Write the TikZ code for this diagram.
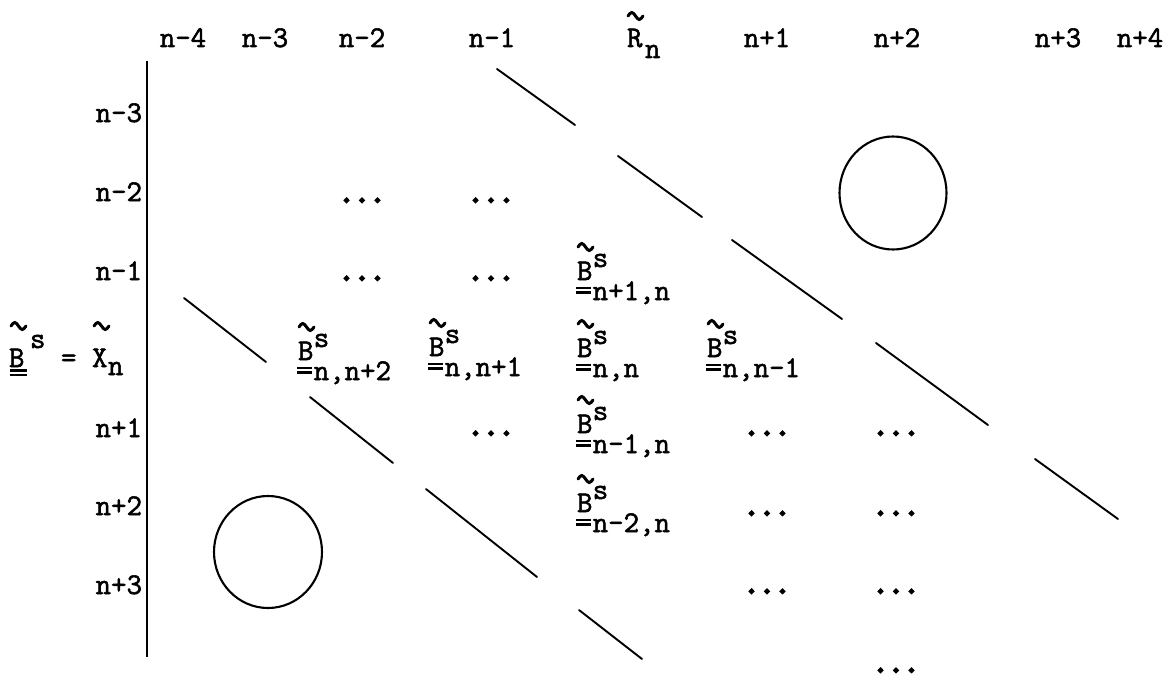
\documentclass[tikz,border=0pt]{standalone}
\newcommand{\strk}[1]{\special{pdf:literal direct 2 Tr #1 w}}
\begin{document}
\begin{tikzpicture}[x=1pt,y=-1pt,
  tt/.style={font=\fontsize{30}{36}\selectfont\ttfamily\strk{0.55}, inner sep=0pt, outer sep=0pt},
  hd/.style={tt, anchor=base},
  rowlbl/.style={tt, anchor=base east},
  dotrow/.style={tt, anchor=base, font=\fontsize{30}{36}\selectfont\ttfamily\strk{2.2}},
  piece/.style={tt, anchor=base west},
  diag/.style={line width=1.9pt, line cap=round},
  vline/.style={line width=2.8pt},
  ring/.style={line width=2.1pt},
  tildeline/.style={line width=3pt, line cap=round},
  uline/.style={line width=2.6pt},
  bent/.pic={
    \node[piece] (-b) at (0,0) {B};
    \node[piece] (-s) at (15.75,-13) {s};
    \node[piece] (-sub) at (15.75,20) {\tikzpictext};
    \draw[tildeline] (1,-33) sin (4.75,-36.5) cos (8.5,-33) sin (12.25,-29.5) cos (16,-33);
    \draw[uline] (-1,8) -- (14,8) (-1,12.5) -- (14,12.5);
  }]
\useasboundingbox (0,0) rectangle (1175,677);
% column headers
\node[hd] (c1) at (183,47) {n-4};
\node[hd] (c2) at (265,47) {n-3};
\node[hd] (c3) at (362,47) {n-2};
\node[hd] (c4) at (492,47) {n-1};
\node[piece] (cR) at (627,47) {R};
\node[piece] (cRn) at (645,58) {n};
\draw[tildeline] (628,16) sin (631.75,12.5) cos (635.5,16) sin (639.25,19.5) cos (643,16);
\node[hd] (c6) at (767,47) {n+1};
\node[hd] (c7) at (897,47) {n+2};
\node[hd] (c8) at (1058,47) {n+3};
\node[hd] (c9) at (1140,47) {n+4};
% row labels
\node[rowlbl] (r1) at (142,122) {n-3};
\node[rowlbl] (r2) at (142,201) {n-2};
\node[rowlbl] (r3) at (142,280) {n-1};
\node[rowlbl] (r5) at (142,437) {n+1};
\node[rowlbl] (r6) at (142,515) {n+2};
\node[rowlbl] (r7) at (142,594) {n+3};
% left label
\node[piece] (lb) at (9,367) {B};
\node[piece] (ls) at (30,348) {s};
\node[piece] (leq) at (61,367) {=};
\node[piece] (lx) at (92,367) {X};
\node[piece] (ln) at (108,375) {n};
\draw[tildeline] (11,326) sin (14.75,322.5) cos (18.5,326) sin (22.25,329.5) cos (26,326);
\draw[tildeline] (94,326) sin (97.75,322.5) cos (101.5,326) sin (105.25,329.5) cos (109,326);
\draw[uline] (10,370.5) -- (27,370.5) (10,375) -- (27,375);
% vertical bar
\draw[vline] (147,61) -- (147,657);
% dots
\node[dotrow] (d1) at (362,202) {...};
\node[dotrow] (d2) at (491,202) {...};
\node[dotrow] (d3) at (362,280) {...};
\node[dotrow] (d4) at (491,280) {...};
\node[dotrow] (d5) at (491,435) {...};
\node[dotrow] (d6) at (767,435) {...};
\node[dotrow] (d7) at (896,435) {...};
\node[dotrow] (d8) at (767,515) {...};
\node[dotrow] (d9) at (896,515) {...};
\node[dotrow] (d10) at (767,593) {...};
\node[dotrow] (d11) at (896,593) {...};
\node[dotrow] (d12) at (896,672) {...};
% B entries
\pic[pic text={n+1,n}] (e1) at (577,280) {bent};
\pic[pic text={n,n+2}] (e2) at (298,360) {bent};
\pic[pic text={n,n+1}] (e3) at (429,356) {bent};
\pic[pic text={n,n}] (e4) at (577,357) {bent};
\pic[pic text={n,n-1}] (e5) at (707,357) {bent};
\pic[pic text={n-1,n}] (e6) at (577,433) {bent};
\pic[pic text={n-2,n}] (e7) at (577,512) {bent};
% diagonals
\draw[diag] (497,69) -- (575,125);
\draw[diag] (618,156) -- (702,217);
\draw[diag] (732,240) -- (842,319);
\draw[diag] (876,343) -- (988,425);
\draw[diag] (1035,459) -- (1118,519);
\draw[diag] (184,298) -- (266,362);
\draw[diag] (310,397) -- (393,463);
\draw[diag] (426,489) -- (537,577);
\draw[diag] (579,610) -- (642,659);
% circles
\draw[ring] (893,193) ellipse [x radius=53.5, y radius=56.5];
\draw[ring] (268,552) ellipse [x radius=54, y radius=56];
\end{tikzpicture}
\end{document}
